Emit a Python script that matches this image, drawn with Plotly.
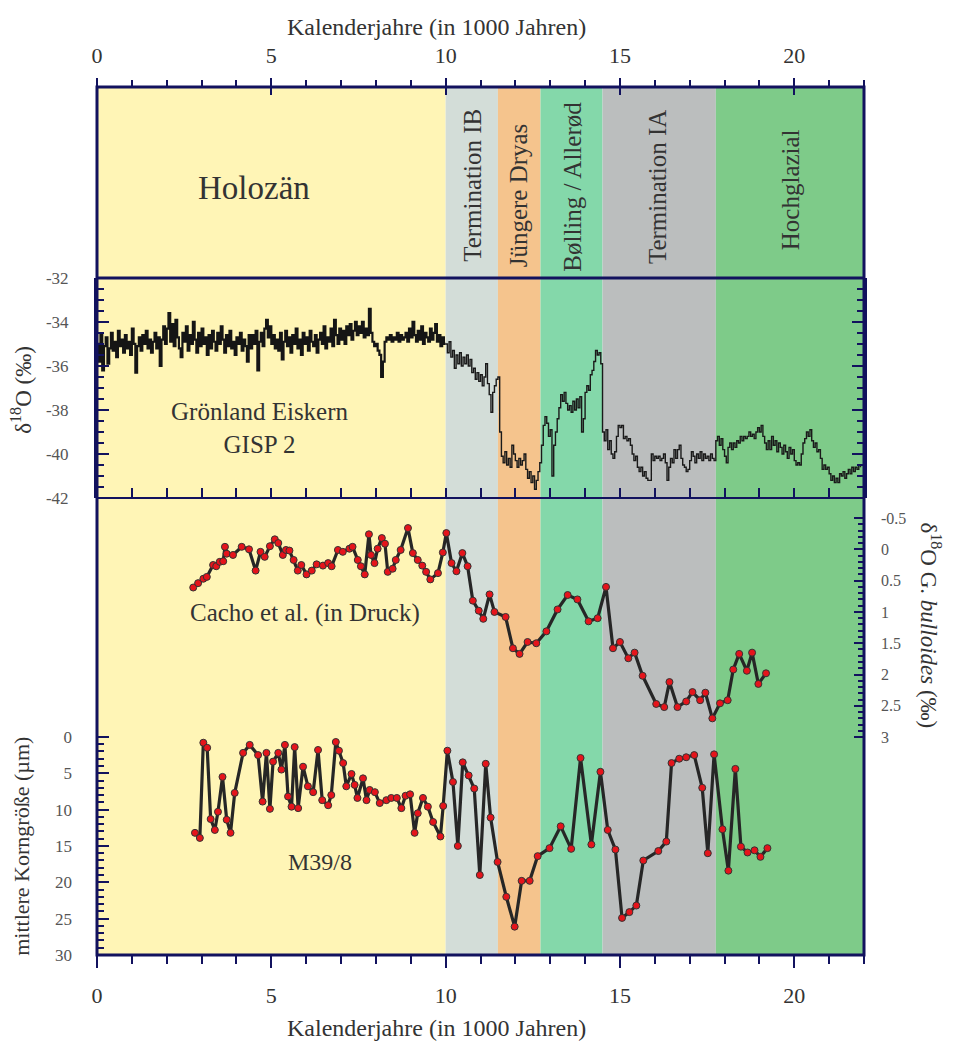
import plotly.graph_objects as go

# ---------------- data ----------------
# GISP2 d18O, Holocene part: evenly sampled, step 0.05 ka starting at 0.0 ka
gisp_holo_step = 0.05
gisp_holo_val = [
    -35.0, -35.8, -34.6, -36.2, -35.1, -34.7, -35.9, -35.2,
    -34.5, -35.3, -34.9, -35.6, -34.4, -35.1, -34.8, -35.4,
    -34.6, -35.2, -34.9, -35.5, -34.3, -35.0, -36.3, -35.1,
    -34.7, -35.3, -34.6, -35.0, -34.4, -35.2, -34.8, -35.4,
    -34.9, -34.5, -35.2, -34.7, -36.0, -34.8, -34.2, -35.0,
    -34.3, -33.6, -34.9, -34.1, -35.1, -33.9, -34.7, -35.2,
    -35.6, -34.5, -34.9, -34.2, -35.3, -34.6, -35.0, -34.0,
    -34.8, -35.4, -34.5, -35.1, -34.3, -35.0, -34.7, -35.5,
    -34.6, -35.2, -34.4, -34.9, -35.3, -34.5, -35.0, -34.2,
    -34.8, -35.4, -34.6, -35.1, -34.4, -35.2, -34.9, -35.5,
    -34.7, -35.0, -34.5, -35.3, -34.8, -35.1, -35.8, -34.6,
    -35.2, -34.6, -35.0, -34.4, -36.2, -34.9, -34.5, -35.1,
    -34.3, -33.9, -34.7, -34.2, -35.0, -34.6, -35.2, -34.8,
    -35.3, -34.5, -35.7, -34.9, -34.4, -35.1, -34.7, -35.4,
    -34.6, -35.0, -34.3, -35.2, -34.8, -35.5, -34.5, -35.0,
    -34.7, -35.3, -34.4, -34.9, -35.1, -34.6, -35.4, -34.8,
    -34.5, -35.0, -34.2, -35.2, -34.7, -34.9, -34.3, -35.1,
    -33.9, -34.6, -35.0, -34.3, -34.8, -34.4, -35.0, -34.2,
    -34.6, -34.1, -34.8, -34.4, -34.0, -34.6, -34.2, -34.5,
    -34.0, -34.7, -34.3, -34.6, -33.4, -34.5, -34.9, -35.1,
    -35.0, -35.3, -35.5, -36.5, -35.8, -34.9, -34.7, -34.8,
    -34.6, -34.9, -34.7, -34.8, -34.5, -34.9, -34.6, -34.8,
    -34.7, -34.5, -34.9, -34.3, -34.7, -34.0, -34.6, -34.9,
    -34.4, -34.8, -34.2, -35.0, -34.5, -34.7, -34.9, -34.3,
    -34.8, -34.5, -34.1, -34.9, -34.6, -35.1, -34.7, -35.0,
]

# GISP2 d18O, deglacial / glacial part (age ka, value permil)
gisp_late = [
    (10.00, -35.0), (10.05, -35.4), (10.10, -34.9), (10.15, -35.6), (10.20, -35.3),
    (10.25, -36.1), (10.30, -35.5), (10.35, -35.9), (10.40, -35.4), (10.45, -36.0),
    (10.50, -35.6), (10.55, -35.9), (10.60, -35.5), (10.65, -36.0), (10.70, -35.7),
    (10.75, -36.3), (10.80, -36.1), (10.85, -36.6), (10.90, -36.3), (10.95, -36.7),
    (11.00, -36.4), (11.05, -36.9), (11.10, -36.5), (11.15, -35.9), (11.20, -36.8),
    (11.25, -37.3), (11.30, -38.1), (11.35, -37.2), (11.40, -36.9), (11.45, -36.6),
    (11.50, -36.5), (11.55, -39.0), (11.60, -40.1), (11.65, -40.4), (11.70, -39.9),
    (11.75, -40.5), (11.80, -40.2), (11.85, -40.6), (11.90, -39.6), (11.95, -40.0),
    (12.00, -40.3), (12.05, -40.6), (12.10, -40.2), (12.15, -40.5), (12.20, -40.3),
    (12.25, -40.0), (12.30, -40.7), (12.35, -41.1), (12.40, -40.8), (12.45, -41.3),
    (12.50, -41.0), (12.55, -41.6), (12.60, -41.2), (12.65, -40.8), (12.70, -40.4),
    (12.75, -39.6), (12.80, -38.7), (12.85, -38.3), (12.90, -38.6), (12.95, -39.2),
    (13.00, -38.9), (13.05, -41.0), (13.10, -39.6), (13.15, -39.0), (13.20, -38.4),
    (13.25, -37.9), (13.30, -37.3), (13.35, -37.6), (13.40, -37.2), (13.45, -37.7),
    (13.50, -38.0), (13.55, -37.8), (13.60, -38.1), (13.65, -37.6), (13.70, -38.0),
    (13.75, -37.5), (13.80, -37.9), (13.85, -37.4), (13.90, -39.0), (13.95, -38.4),
    (14.00, -37.2), (14.05, -36.9), (14.10, -37.1), (14.15, -36.4), (14.20, -36.2),
    (14.25, -35.8), (14.30, -35.3), (14.35, -35.5), (14.40, -35.4), (14.45, -35.9),
    (14.50, -39.0), (14.55, -39.4), (14.60, -38.9), (14.65, -39.8), (14.70, -39.4),
    (14.75, -40.0), (14.80, -40.2), (14.85, -39.9), (14.90, -39.2), (14.95, -38.7),
    (15.00, -38.8), (15.05, -38.7), (15.10, -39.3), (15.15, -39.2), (15.20, -39.4),
    (15.25, -39.3), (15.30, -39.6), (15.35, -40.0), (15.40, -40.3), (15.45, -40.1),
    (15.50, -40.6), (15.55, -40.8), (15.60, -40.6), (15.65, -41.0), (15.70, -40.8),
    (15.75, -41.1), (15.80, -41.2), (15.85, -41.2), (15.90, -40.0), (15.95, -40.3),
    (16.00, -40.1), (16.05, -40.2), (16.10, -40.1), (16.15, -40.3), (16.20, -40.2),
    (16.25, -40.0), (16.30, -40.4), (16.35, -41.2), (16.40, -40.6), (16.45, -40.2),
    (16.50, -40.4), (16.55, -39.8), (16.60, -40.2), (16.65, -39.8), (16.70, -39.6),
    (16.75, -40.2), (16.80, -40.5), (16.85, -40.6), (16.90, -40.8), (16.95, -40.7),
    (17.00, -40.3), (17.05, -39.9), (17.10, -40.1), (17.15, -40.4), (17.20, -40.0),
    (17.25, -40.2), (17.30, -39.9), (17.35, -40.3), (17.40, -40.0), (17.45, -40.2),
    (17.50, -40.1), (17.55, -40.3), (17.60, -40.0), (17.65, -40.2), (17.70, -40.3),
    (17.75, -39.4), (17.80, -39.2), (17.85, -39.6), (17.90, -39.3), (17.95, -39.8),
    (18.00, -40.1), (18.05, -40.4), (18.10, -39.7), (18.15, -39.5), (18.20, -39.8),
    (18.25, -39.5), (18.30, -39.7), (18.35, -39.4), (18.40, -39.5), (18.45, -39.2),
    (18.50, -39.4), (18.55, -39.2), (18.60, -39.3), (18.65, -39.2), (18.70, -39.0),
    (18.75, -39.2), (18.80, -39.1), (18.85, -39.3), (18.90, -39.0), (18.95, -38.8),
    (19.00, -39.0), (19.05, -38.7), (19.10, -39.2), (19.15, -39.5), (19.20, -39.8),
    (19.25, -39.4), (19.30, -39.8), (19.35, -39.2), (19.40, -39.6), (19.45, -39.4),
    (19.50, -39.9), (19.55, -39.5), (19.60, -39.7), (19.65, -40.0), (19.70, -39.6),
    (19.75, -39.9), (19.80, -40.2), (19.85, -39.7), (19.90, -40.0), (19.95, -39.8),
    (20.00, -40.3), (20.05, -40.5), (20.10, -40.4), (20.15, -40.5), (20.20, -40.0),
    (20.25, -39.5), (20.30, -39.3), (20.35, -39.0), (20.40, -39.2), (20.45, -38.9),
    (20.50, -39.4), (20.55, -39.7), (20.60, -39.5), (20.65, -39.9), (20.70, -39.8),
    (20.75, -40.2), (20.80, -40.7), (20.85, -40.5), (20.90, -40.7), (20.95, -40.6),
    (21.00, -40.9), (21.05, -41.2), (21.10, -41.0), (21.15, -41.3), (21.20, -41.1),
    (21.25, -41.3), (21.30, -40.9), (21.35, -41.0), (21.40, -40.8), (21.45, -41.1),
    (21.50, -40.9), (21.55, -40.7), (21.60, -40.9), (21.65, -40.6), (21.70, -40.8),
    (21.75, -40.6), (21.80, -40.7), (21.85, -40.5), (21.90, -40.6),
]

# Cacho et al.: d18O G. bulloides (permil)
cacho_age = [2.76, 2.90, 3.05, 3.15, 3.33, 3.42, 3.52, 3.62, 3.67, 3.72, 3.90, 4.15,
             4.36, 4.55, 4.69, 4.81, 4.96, 5.10, 5.20, 5.33, 5.42, 5.52, 5.64, 5.76,
             5.86, 6.01, 6.16, 6.30, 6.48, 6.63, 6.73, 6.91, 7.05, 7.24, 7.33, 7.48,
             7.57, 7.68, 7.80, 7.86, 7.96, 8.05, 8.17, 8.26, 8.34, 8.48, 8.57, 8.71,
             8.92, 9.06, 9.20, 9.33, 9.44, 9.56, 9.78, 9.92, 10.02, 10.17, 10.31,
             10.48, 10.63, 10.78, 10.95, 11.08, 11.26, 11.40, 11.72, 11.93, 12.12,
             12.35, 12.60, 12.89, 13.21, 13.50, 13.78, 14.10, 14.36, 14.60, 14.80,
             15.00, 15.24, 15.42, 15.65, 16.04, 16.27, 16.42, 16.65, 16.90, 17.08,
             17.30, 17.45, 17.65, 17.87, 18.09, 18.25, 18.42, 18.64, 18.79, 18.97, 19.19]
cacho_val = [0.61, 0.54, 0.47, 0.44, 0.25, 0.27, 0.20, 0.19, -0.04, 0.07, 0.09, -0.04,
             0.00, 0.34, 0.04, 0.12, -0.05, -0.16, -0.10, 0.09, 0.01, 0.02, 0.17, 0.34,
             0.25, 0.40, 0.34, 0.24, 0.26, 0.22, 0.27, 0.01, 0.04, -0.01, -0.04, 0.17,
             0.27, 0.40, -0.24, 0.09, 0.22, -0.01, -0.18, -0.09, 0.36, 0.31, 0.17, 0.01,
             -0.34, 0.06, 0.17, 0.26, 0.36, 0.48, 0.38, 0.05, -0.26, 0.22, 0.35,
             0.06, 0.27, 0.82, 0.98, 1.11, 0.72, 1.00, 1.08, 1.58, 1.67,
             1.48, 1.50, 1.31, 0.96, 0.73, 0.80, 1.15, 1.10, 0.60, 1.58,
             1.48, 1.74, 1.65, 2.02, 2.47, 2.52, 2.12, 2.52, 2.43, 2.28,
             2.41, 2.29, 2.70, 2.46, 2.41, 1.92, 1.67, 1.94, 1.65, 2.15, 1.98]

# M39/8 mean grain size (micrometre)
grain_age = [2.81, 2.95, 3.05, 3.16, 3.26, 3.38, 3.47, 3.60, 3.72, 3.83, 3.95, 4.19,
             4.38, 4.62, 4.75, 4.86, 4.96, 5.05, 5.20, 5.29, 5.39, 5.48, 5.58, 5.67,
             5.77, 5.91, 6.05, 6.20, 6.34, 6.46, 6.63, 6.72, 6.85, 6.94, 7.06, 7.15,
             7.30, 7.39, 7.47, 7.63, 7.73, 7.82, 7.97, 8.11, 8.30, 8.44, 8.60, 8.73,
             8.85, 8.98, 9.11, 9.20, 9.35, 9.49, 9.64, 9.85, 9.93, 10.05, 10.21, 10.35,
             10.49, 10.66, 10.82, 10.98, 11.15, 11.29, 11.49, 11.74, 11.98, 12.18,
             12.41, 12.64, 12.98, 13.30, 13.60, 13.87, 14.18, 14.44, 14.65, 14.87,
             15.06, 15.27, 15.47, 15.67, 16.10, 16.33, 16.48, 16.70, 16.90, 17.13,
             17.36, 17.52, 17.70, 17.94, 18.11, 18.31, 18.47, 18.66, 18.86, 19.03, 19.23]
grain_val = [13.2, 13.9, 0.8, 1.5, 11.3, 12.8, 10.3, 5.5, 11.4, 13.2, 7.7, 2.2,
             1.1, 2.5, 8.9, 2.2, 9.9, 3.4, 2.2, 4.5, 1.1, 8.2, 9.6, 1.4,
             9.8, 4.1, 6.8, 7.6, 1.8, 8.7, 9.4, 8.0, 0.7, 1.9, 3.6, 6.8,
             5.1, 6.6, 8.4, 5.7, 8.7, 7.3, 7.6, 9.1, 8.7, 8.4, 8.4, 9.8,
             8.1, 7.9, 13.2, 10.5, 8.4, 9.6, 11.7, 13.7, 9.5, 1.9, 6.2, 15.0,
             3.5, 5.3, 7.1, 19.0, 3.7, 11.1, 17.2, 22.0, 26.1, 19.8,
             19.8, 16.4, 15.3, 12.3, 15.4, 2.9, 14.8, 4.8, 12.8, 15.5,
             24.9, 24.1, 23.2, 17.0, 15.7, 14.4, 3.6, 3.0, 2.8, 2.5,
             7.0, 16.0, 2.4, 12.7, 18.4, 4.4, 15.1, 15.9, 15.6, 16.5, 15.3]

# climate periods (ka)
period_names = ["Holozän", "Termination IB", "Jüngere Dryas", "Bølling / Allerød",
                "Termination IA", "Hochglazial"]
period_start = [0.0, 10.0, 11.5, 12.72, 14.5, 17.75]
period_end = [10.0, 11.5, 12.72, 14.5, 17.75, 22.0]
period_color = ["#FFF5B6", "#D3DDD8", "#F5C48D", "#84D8AA", "#BBBEBE", "#7ECB89"]

x_ticks = [0, 5, 10, 15, 20]
gisp_ticks = [-32, -34, -36, -38, -40, -42]
gisp_ticktext = ["-32", "-34", "-36", "-38", "-40", "-42"]
grain_ticks = [0, 5, 10, 15, 20, 25, 30]
cacho_ticks = [-0.5, 0, 0.5, 1, 1.5, 2, 2.5, 3]
cacho_ticktext = ["-0.5", "0", "0.5", "1", "1.5", "2", "2.5", "3"]

# ---------------- figure ----------------
FONT = "Liberation Serif"
NAVY = "#12125e"
TXT = "#333333"
TICKTXT = "#555555"

holo_age = [i * gisp_holo_step for i in range(len(gisp_holo_val))]
late_age = [a for a, _ in gisp_late]
late_val = [v for _, v in gisp_late]

# panel domains (paper fractions)
D1 = 0.5265
D2 = 0.7800

fig = go.Figure()

fig.add_trace(go.Scatter(x=holo_age + [late_age[0]], y=gisp_holo_val + [late_val[0]],
                         xaxis="x2", yaxis="y3", mode="lines",
                         line=dict(color="#151515", width=2.2, shape="hv"),
                         showlegend=False, hoverinfo="skip"))
fig.add_trace(go.Scatter(x=late_age, y=late_val, xaxis="x2", yaxis="y3", mode="lines",
                         line=dict(color="#1a1a1a", width=1.4, shape="hv"),
                         showlegend=False, hoverinfo="skip"))
fig.add_trace(go.Scatter(x=grain_age, y=grain_val, xaxis="x", yaxis="y", mode="lines+markers",
                         line=dict(color="#262626", width=3.2),
                         marker=dict(color="#e5141b", size=7, line=dict(color="#333333", width=1)),
                         showlegend=False))
fig.add_trace(go.Scatter(x=cacho_age, y=cacho_val, xaxis="x", yaxis="y2", mode="lines+markers",
                         line=dict(color="#262626", width=3.2),
                         marker=dict(color="#e5141b", size=7, line=dict(color="#333333", width=1)),
                         showlegend=False))
# invisible anchors so the top axes (x3, x4) get drawn
for xa in ("x3", "x4"):
    fig.add_trace(go.Scatter(x=[x_ticks[0]], y=[0.5], xaxis=xa, yaxis="y4", mode="markers",
                             marker=dict(opacity=0), showlegend=False, hoverinfo="skip"))

shapes = []
for s, e, c in zip(period_start, period_end, period_color):
    shapes.append(dict(type="rect", xref="x", yref="paper", x0=s, x1=e, y0=0, y1=1,
                       fillcolor=c, line=dict(width=0), layer="below"))
shapes.append(dict(type="line", xref="paper", yref="paper", x0=0, x1=1, y0=D2, y1=D2,
                   line=dict(color=NAVY, width=3)))
shapes.append(dict(type="line", xref="paper", yref="paper", x0=0, x1=1, y0=D1, y1=D1,
                   line=dict(color=NAVY, width=2)))
shapes.append(dict(type="rect", xref="paper", yref="paper", x0=0, x1=1, y0=0, y1=1,
                   line=dict(color=NAVY, width=3)))


def ann(text, x, y, xref, yref, size, angle=0):
    return dict(text=text, x=x, y=y, xref=xref, yref=yref, textangle=angle,
                xanchor="center", yanchor="middle", showarrow=False,
                font=dict(family=FONT, size=size, color=TXT))


annotations = [ann("Holozän", 4.5, 0.8836, "x", "paper", 33)]
rot_pos = [(10.75, 0.887), (12.1, 0.875), (13.65, 0.885), (16.1, 0.885), (19.9, 0.882)]
for name, (xx, yy) in zip(period_names[1:], rot_pos):
    annotations.append(ann(name, xx, yy, "x", "paper", 25, -90))
annotations.append(ann("Grönland Eiskern<br>GISP 2", 4.67, 0.607, "x", "paper", 25))
annotations.append(ann("Cacho et al. (in Druck)", 5.96, 0.394, "x", "paper", 25))
annotations.append(ann("M39/8", 6.39, 0.107, "x", "paper", 24))
annotations.append(ann("δ<sup>18</sup>O (‰)", -0.098, 0.651, "paper", "paper", 23, -90))
annotations.append(ann("mittlere Korngröße (µm)", -0.098, 0.1256, "paper", "paper", 22, -90))
annotations.append(ann("δ<sup>18</sup>O G. <i>bulloides</i> (‰)", 1.087, 0.380, "paper", "paper", 23, 90))
annotations.append(ann("Kalenderjahre (in 1000 Jahren)", 0.442, 1.069, "paper", "paper", 24))
annotations.append(ann("Kalenderjahre (in 1000 Jahren)", 0.442, -0.084, "paper", "paper", 24))

axis_common = dict(showgrid=False, zeroline=False)

grain_minor = [v for v in range(0, 31) if v % 5 != 0]
cacho_minor = [round(-0.5 + 0.1 * i, 1) for i in range(36)]
cacho_minor = [v for v in cacho_minor if round(v * 2) != v * 2]

fig.update_layout(
    width=957, height=1044,
    margin=dict(l=89, r=101, t=79, b=97),
    paper_bgcolor="white", plot_bgcolor="rgba(0,0,0,0)",
    font=dict(family=FONT, color=TXT),
    shapes=shapes, annotations=annotations,
    xaxis=dict(domain=[0, 1], range=[0, 22], anchor="y", side="bottom",
               tickvals=x_ticks, ticks="outside", ticklen=12, tickwidth=2, tickcolor=NAVY,
               minor=dict(dtick=1, tick0=0, ticks="outside", ticklen=8, tickwidth=2, tickcolor=NAVY),
               tickfont=dict(family=FONT, size=22, color=TXT), ticklabelstandoff=9,
               showline=False, **axis_common),
    xaxis2=dict(domain=[0, 1], range=[0, 22], anchor="y3", side="bottom",
                dtick=1, tick0=0, ticks="inside", ticklen=10, tickwidth=2, tickcolor=NAVY,
                showticklabels=False, showline=False, **axis_common),
    xaxis3=dict(domain=[0, 1], range=[0, 22], anchor="y4", side="top",
                tickvals=x_ticks, ticks="outside", ticklen=8, tickwidth=2, tickcolor=NAVY,
                minor=dict(dtick=1, tick0=0, ticks="outside", ticklen=6, tickwidth=2, tickcolor=NAVY),
                tickfont=dict(family=FONT, size=22, color=TXT), ticklabelstandoff=6,
                showline=False, **axis_common),
    xaxis4=dict(domain=[0, 1], range=[0, 22], anchor="y4", side="top", overlaying="x3",
                tickvals=x_ticks, ticks="inside", ticklen=8, tickwidth=2, tickcolor=NAVY,
                showticklabels=False, showline=False, **axis_common),
    yaxis=dict(domain=[0, D1], range=[30, -32.86], anchor="x",
               tickvals=grain_ticks, ticks="inside", ticklen=12, tickwidth=2, tickcolor=NAVY,
               minor=dict(tickvals=grain_minor, ticks="inside", ticklen=7, tickwidth=2, tickcolor=NAVY),
               tickfont=dict(family=FONT, size=17, color=TICKTXT), ticklabelstandoff=24,
               showline=False, **axis_common),
    yaxis2=dict(range=[6.48, -0.82], overlaying="y", side="right", anchor="x",
                tickvals=cacho_ticks, ticktext=cacho_ticktext,
                ticks="inside", ticklen=10, tickwidth=2, tickcolor=NAVY,
                minor=dict(tickvals=cacho_minor, ticks="inside", ticklen=6, tickwidth=2, tickcolor=NAVY),
                tickfont=dict(family=FONT, size=16, color=TICKTXT), ticklabelstandoff=16,
                showline=False, **axis_common),
    yaxis3=dict(domain=[D1, D2], range=[-42, -32], anchor="x2",
                tickvals=gisp_ticks, ticktext=gisp_ticktext,
                ticks="inside", ticklen=12, tickwidth=2, tickcolor=NAVY,
                minor=dict(dtick=0.5, tick0=0, ticks="inside", ticklen=7, tickwidth=2, tickcolor=NAVY),
                tickfont=dict(family=FONT, size=17, color=TICKTXT), ticklabelstandoff=22,
                showline=True, linecolor=NAVY, linewidth=3, mirror="ticks", **axis_common),
    yaxis4=dict(domain=[D2, 1], range=[0, 1], anchor="x3", visible=False, **axis_common),
)

fig.write_html("out.html")
